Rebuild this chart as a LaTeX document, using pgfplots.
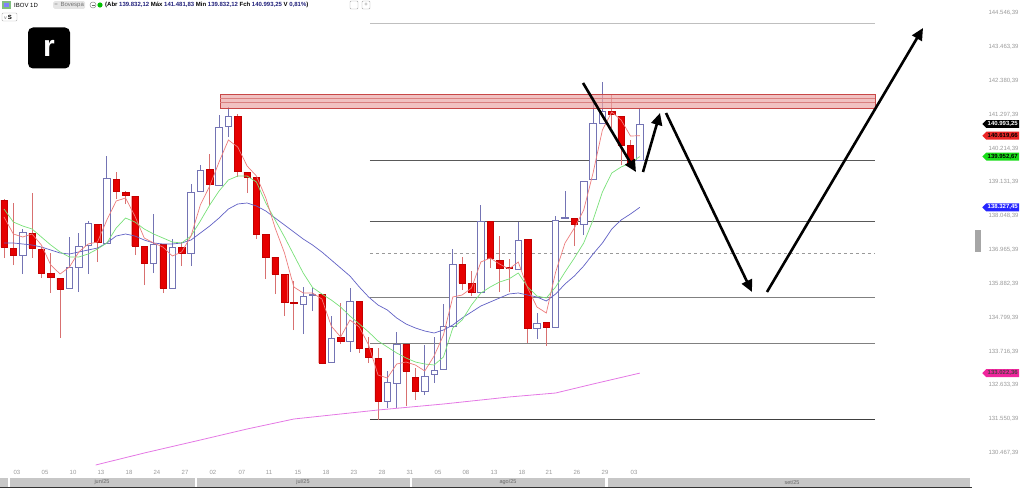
\documentclass[border=0pt]{standalone}
\usepackage{pgfplots}
\usepackage{pgfplotstable}
\pgfplotsset{compat=1.18}
\usepackage{fontspec}
\setmainfont{Liberation Sans}
\usetikzlibrary{arrows.meta,shapes.symbols}

\definecolor{upc}{HTML}{7474B4}
\definecolor{dnc}{HTML}{E60000}
\definecolor{dnw}{HTML}{D87070}
\definecolor{mared}{HTML}{EC7C7C}
\definecolor{magreen}{HTML}{78E078}
\definecolor{mablue}{HTML}{6060C4}
\definecolor{mamag}{HTML}{E478E4}
\definecolor{tickg}{HTML}{9A9A9A}
\definecolor{zonef}{HTML}{EBA6A6}
\definecolor{zoneb}{HTML}{C84848}
\definecolor{navy}{HTML}{20207A}

% up candles: base = open, h = close - open
\pgfplotstableread{
i b h
2 136802 736
7 135746 672
8 136418 672
9 137122 704
11 137186 2080
16 136546 608
18 135746 1312
20 136866 1952
21 138850 672
23 139042 1856
24 140930 320
32 135234 256
33 135522 32
35 133378 768
37 134050 1280
41 132130 608
42 132706 1248
45 132450 480
46 132994 128
47 133154 1376
48 134530 1984
51 135618 2272
55 136354 928
57 134466 160
59 134498 3424
60 137970 20
62 137794 1376
63 139234 1792
64 141026 384
68 139832.12 1161.13
}\upt

% down candles: base = close, h = open - close
\pgfplotstableread{
i b h
0 137058 1504
1 136802 224
3 137026 480
4 136226 768
5 136098 128
6 135714 352
10 137218 576
12 138850 384
13 138722 96
14 137090 1600
15 136546 544
17 135746 1408
19 136866 192
22 139074 480
25 139490 1760
26 139298 160
27 137474 1824
28 136738 736
29 136194 544
30 135298 896
31 135266 32
34 133346 2208
36 134050 128
38 133826 1504
39 133538 288
40 132130 1376
43 133090 864
44 132450 448
49 135906 608
50 135618 288
52 136706 1184
53 136386 256
54 136386 32
56 134466 2848
58 134498 160
61 137794 192
65 141314 96
66 140322 928
67 139778 544
}\dnt

\pgfplotsset{
  chartbase/.style={scale only axis, width=975pt, height=465pt,
    xmin=-0.428, xmax=103.85, ymin=130082, ymax=144962},
  hiddenax/.style={chartbase, hide axis},
}
\newcommand{\tf}{\fontsize{6}{7}\selectfont}

\begin{document}
\begin{tikzpicture}
% ---------- main axis: ticks, levels, wicks ----------
\begin{axis}[chartbase,
  axis line style={draw=none}, major tick length=0pt,
  ytick pos=right, yticklabel pos=right,
  ytick={130467.39,131550.39,132633.39,133716.39,134799.39,135882.39,136965.39,138048.39,139131.39,140214.39,141297.39,142380.39,143463.39,144546.39},
  yticklabels={{130.467,39},{131.550,39},{132.633,39},{133.716,39},{134.799,39},{135.882,39},{136.965,39},{138.048,39},{139.131,39},{140.214,39},{141.297,39},{142.380,39},{143.463,39},{144.546,39}},
  yticklabel style={font=\tf, text=tickg, anchor=west, xshift=10pt},
  xtick={1.39,4.39,7.38,10.37,13.37,16.36,19.36,22.35,25.45,28.34,31.44,34.44,37.43,40.43,43.42,46.42,49.41,52.41,55.40,58.29,61.28,64.28,67.38},
  xticklabels={03,05,10,13,18,24,27,02,07,11,15,18,23,28,31,05,08,13,18,21,26,29,03},
  xticklabel style={font=\tf, text=tickg, yshift=-2pt},
  clip mode=individual]
% levels
\addplot[draw=black!25, line width=0.6pt] coordinates {(39.14,144226)(93.16,144226)};
\addplot[draw=black!65, line width=0.7pt] coordinates {(39.14,139842)(93.16,139842)};
\addplot[draw=black!65, line width=0.7pt] coordinates {(39.14,137874)(93.16,137874)};
\addplot[draw=black!40, line width=0.6pt, dashed] coordinates {(39.14,136866)(93.16,136866)};
\addplot[draw=black!50, line width=0.6pt] coordinates {(39.14,135458)(93.16,135458)};
\addplot[draw=black!50, line width=0.6pt] coordinates {(39.14,133986)(93.16,133986)};
\addplot[draw=black!75, line width=0.7pt] coordinates {(39.14,131554)(93.16,131554)};
% wicks of up candles
\addplot[draw=upc, line width=0.8pt, unbounded coords=jump] coordinates {
(2,136194)(2,137634)(2,nan)
(7,135746)(7,137378)(7,nan)
(8,135618)(8,137506)(8,nan)
(9,136194)(9,137890)(9,nan)
(11,137186)(11,139970)(11,nan)
(16,136226)(16,138114)(16,nan)
(18,135746)(18,137314)(18,nan)
(20,136450)(20,139074)(20,nan)
(21,138850)(21,139682)(21,nan)
(23,139042)(23,141282)(23,nan)
(24,140578)(24,141538)(24,nan)
(32,134274)(32,135778)(32,nan)
(33,135010)(33,135746)(33,nan)
(35,133378)(35,134850)(35,nan)
(37,133698)(37,135746)(37,nan)
(41,131906)(41,133090)(41,nan)
(42,131906)(42,134338)(42,nan)
(45,132322)(45,133922)(45,nan)
(46,132706)(46,134178)(46,nan)
(47,133154)(47,135234)(47,nan)
(48,134530)(48,136994)(48,nan)
(51,135618)(51,138402)(51,nan)
(55,136354)(55,137858)(55,nan)
(57,134114)(57,134946)(57,nan)
(59,134498)(59,138050)(59,nan)
(60,137970)(60,138850)(60,nan)
(62,137442)(62,139170)(62,nan)
(63,139234)(63,141858)(63,nan)
(64,141026)(64,142338)(64,nan)
(68,139832.12)(68,141481.83)
};
% wicks of down candles
\addplot[draw=dnw, line width=0.8pt, unbounded coords=jump] coordinates {
(0,136706)(0,138594)(0,nan)
(1,136482)(1,138466)(1,nan)
(3,136706)(3,138786)(3,nan)
(4,136066)(4,137058)(4,nan)
(5,135586)(5,136866)(5,nan)
(6,134146)(6,136066)(6,nan)
(10,136578)(10,137794)(10,nan)
(12,138594)(12,139458)(12,nan)
(13,138434)(13,138850)(13,nan)
(14,136802)(14,138690)(14,nan)
(15,135842)(15,137090)(15,nan)
(17,135586)(17,137154)(17,nan)
(19,136450)(19,137218)(19,nan)
(22,138402)(22,140034)(22,nan)
(25,139298)(25,141314)(25,nan)
(26,138786)(26,139458)(26,nan)
(27,137314)(27,139298)(27,nan)
(28,136034)(28,137474)(28,nan)
(29,135554)(29,136738)(29,nan)
(30,134850)(30,136194)(30,nan)
(31,134402)(31,135970)(31,nan)
(34,133314)(34,135554)(34,nan)
(36,133954)(36,135266)(36,nan)
(38,133666)(38,135330)(38,nan)
(39,133346)(39,134178)(39,nan)
(40,131522)(40,133826)(40,nan)
(43,131970)(43,133954)(43,nan)
(44,132162)(44,133186)(44,nan)
(49,135682)(49,136738)(49,nan)
(50,135490)(50,136290)(50,nan)
(52,136386)(52,137890)(52,nan)
(53,135618)(53,137410)(53,nan)
(54,135618)(54,136674)(54,nan)
(56,133986)(56,137314)(56,nan)
(58,133890)(58,134658)(58,nan)
(61,137090)(61,137986)(61,nan)
(65,140866)(65,141922)(65,nan)
(66,139682)(66,141250)(66,nan)
(67,139618)(67,140482)
};
\end{axis}

% ---------- up candle bodies ----------
\begin{axis}[hiddenax, ybar stacked, bar width=6.4pt]
\addplot[draw=none, fill=none] table[x=i, y=b] {\upt};
\addplot[draw=upc, fill=white, line width=0.8pt] table[x=i, y=h] {\upt};
\end{axis}

% ---------- down candle bodies ----------
\begin{axis}[hiddenax, ybar stacked, bar width=6.4pt]
\addplot[draw=none, fill=none] table[x=i, y=b] {\dnt};
\addplot[draw=dnc!85!black, fill=dnc, line width=0.4pt] table[x=i, y=h] {\dnt};
\end{axis}

% ---------- overlay: MAs, zone, arrows, tags ----------
\begin{axis}[hiddenax, clip=false]
% resistance zone
\addplot[fill=zonef, fill opacity=0.7, draw=zoneb, line width=0.8pt] coordinates {(23.1,141506)(93.16,141506)(93.16,141954)(23.1,141954)} -- cycle;
\addplot[draw=zoneb!70, line width=0.4pt] coordinates {(23.1,141826)(93.16,141826)};
\addplot[draw=zoneb!70, line width=0.4pt] coordinates {(23.1,141698)(93.16,141698)};
% MA 200 (magenta)
\addplot[draw=mamag, line width=0.8pt] coordinates {(9.8,130082)(15,130466)(21,130882)(26,131234)(31,131554)(36,131714)(40,131842)(47,132034)(54,132258)(59,132386)(63,132674)(68,133022.36)};
% slow MA (blue)
\addplot[draw=mablue, line width=0.7pt] coordinates {
(0,137186)(1,137186)(2,137154)(3,137122)(4,137058)(5,136962)(6,136866)(7,136834)(8,136898)(9,136962)
(10,137026)(11,137186)(12,137410)(13,137474)(14,137410)(15,137282)(16,137186)(17,137154)(18,137154)(19,137186)
(20,137282)(21,137506)(22,137730)(23,137986)(24,138274)(25,138434)(26,138466)(27,138370)(28,138210)(29,137986)
(30,137762)(31,137538)(32,137314)(33,137122)(34,136898)(35,136642)(36,136386)(37,136130)(38,135778)(39,135458)
(40,135202)(41,135042)(42,134786)(43,134594)(44,134466)(45,134370)(46,134306)(47,134402)(48,134562)(49,134786)
(50,134978)(51,135170)(52,135298)(53,135426)(54,135554)(55,135586)(56,135522)(57,135458)(58,135330)(59,135554)
(60,135874)(61,136130)(62,136450)(63,136834)(64,137186)(65,137634)(66,137922)(67,138114)(68,138327.45)};
% medium MA (green)
\addplot[draw=magreen, line width=0.7pt] coordinates {
(0,138274)(1,137858)(2,137730)(3,137634)(4,137378)(5,137122)(6,136898)(7,136738)(8,136738)(9,136834)
(10,136994)(11,137186)(12,137666)(13,137986)(14,137858)(15,137634)(16,137474)(17,137346)(18,137218)(19,137186)
(20,137410)(21,137890)(22,138402)(23,138850)(24,139202)(25,139330)(26,139330)(27,139138)(28,138466)(29,137922)
(30,137378)(31,136802)(32,136226)(33,135762)(34,135554)(35,135362)(36,135138)(37,134850)(38,134594)(39,134338)
(40,134050)(41,133858)(42,133666)(43,133506)(44,133378)(45,133314)(46,133282)(47,133538)(48,134466)(49,134722)
(50,135202)(51,135586)(52,135778)(53,135938)(54,136034)(55,136226)(56,135778)(57,135490)(58,135426)(59,135778)
(60,136258)(61,136706)(62,137186)(63,137922)(64,138818)(65,139426)(66,139618)(67,139746)(68,139952.67)};
% fast MA (red)
\addplot[draw=mared, line width=0.7pt] coordinates {
(0,138018)(1,137474)(2,137378)(3,137474)(4,137122)(5,136482)(6,136194)(7,136418)(8,136898)(9,137154)
(10,137218)(11,137922)(12,138530)(13,138626)(14,138050)(15,137346)(16,137186)(17,137058)(18,136770)(19,136898)
(20,137410)(21,138402)(22,139010)(23,139778)(24,140482)(25,140258)(26,139650)(27,139330)(28,138626)(29,137666)
(30,136866)(31,135778)(32,135586)(33,135586)(34,135394)(35,134530)(36,134178)(37,134722)(38,134498)(39,133922)
(40,132962)(41,132866)(42,133314)(43,133378)(44,133282)(45,133090)(46,133570)(47,134242)(48,135458)(49,135522)
(50,135746)(51,136578)(52,136706)(53,136514)(54,136354)(55,136578)(56,135746)(57,135138)(58,134946)(59,136258)
(60,137186)(61,137666)(62,138242)(63,139426)(64,140802)(65,141378)(66,141122)(67,140610)(68,140619.66)};
% projection arrows
\addplot[black, line width=2.6pt, -{Triangle[length=12pt,width=11pt]}] coordinates {(61.93,142306)(67.59,139458)};
\addplot[black, line width=2.6pt, -{Triangle[length=12pt,width=11pt]}] coordinates {(68.34,139458)(70.16,141346)};
\addplot[black, line width=2.6pt, -{Triangle[length=12pt,width=11pt]}] coordinates {(70.8,141346)(80.0,135618)};
\addplot[black, line width=2.6pt, -{Triangle[length=12pt,width=11pt]}] coordinates {(81.6,135618)(98.29,144066)};
% price tags
\node[signal, signal to=west, fill=black, text=white, font=\tf\bfseries, inner sep=1.4pt, anchor=west] at (axis cs:104.6,140993.25) {140.993,25};
\node[signal, signal to=west, fill=dnc!85, text=black, font=\tf\bfseries, inner sep=1.4pt, anchor=west] at (axis cs:104.6,140619.66) {140.619,66};
\node[signal, signal to=west, fill=green!85!black!90, text=black, font=\tf\bfseries, inner sep=1.4pt, anchor=west] at (axis cs:104.6,139952.67) {139.952,67};
\node[signal, signal to=west, fill=blue!85, text=white, font=\tf\bfseries, inner sep=1.4pt, anchor=west] at (axis cs:104.6,138327.45) {138.327,45};
\node[signal, signal to=west, fill=magenta!85, text=black!80!magenta, font=\tf\bfseries, inner sep=1.4pt, anchor=west] at (axis cs:104.6,133022.36) {133.022,36};
\end{axis}

% ---------- header, logo, month bar ----------
\fill[green!50!black!50] (2pt,456pt) rectangle (11pt,464pt);
\fill[blue!50] (4pt,458pt) rectangle (9pt,462pt);
\node[anchor=west, font=\tf, inner sep=0] at (14pt,460pt) {IBOV 1D};
\node[anchor=west, font=\tf, text=black!55, fill=black!10, rounded corners=1.5pt, inner sep=1.2pt] at (53pt,460pt) {\textcolor{black!40}{=}\, Bovespa};
\draw[black!45, line width=0.5pt] (93pt,460pt) circle (3pt);
\draw[black!60, line width=0.5pt] (91.5pt,460pt) -- (94.5pt,460pt);
\fill[green!75!black] (100pt,460pt) circle (2.6pt);
\node[anchor=west, font=\tf\bfseries, inner sep=0] at (105pt,460pt) {(Abr \textcolor{navy}{139.832,12} Máx \textcolor{navy}{141.481,83} Min \textcolor{navy}{139.832,12} Fch \textcolor{navy}{140.993,25} V \textcolor{navy}{0,81\%})};
\draw[black!35, line width=0.4pt, rounded corners=1pt] (350pt,456pt) rectangle (358pt,464pt);
\draw[black!35, line width=0.4pt, rounded corners=1pt] (362pt,456pt) rectangle (370pt,464pt);
\node[font=\tf, text=black!50] at (366pt,460pt) {+};
\draw[black!30, line width=0.4pt, rounded corners=1pt] (2pt,444pt) rectangle (17pt,452pt);
\node[anchor=west, font=\tf\bfseries, inner sep=0] at (4pt,448pt) {\textcolor{black!40}{\tiny v}\,S};
\node[fill=black, rounded corners=5pt, minimum width=42pt, minimum height=41pt, text=white, font=\fontsize{30}{30}\selectfont\bfseries, inner sep=0] at (49pt,417pt) {r};
\fill[black!35] (975pt,213pt) rectangle (981pt,235pt);
% month bar
\fill[black!22] (0pt,-13pt) rectangle (8pt,-22pt);
\fill[black!22] (10pt,-13pt) rectangle (195pt,-22pt);
\fill[black!22] (197pt,-13pt) rectangle (410pt,-22pt);
\fill[black!22] (412pt,-13pt) rectangle (605pt,-22pt);
\fill[black!22] (608pt,-13pt) rectangle (970pt,-22pt);
\fill[black!80] (0pt,-22pt) rectangle (972pt,-23pt);
\node[font=\fontsize{5.5}{6}\selectfont, text=black!60] at (102pt,-17.5pt) {jun/25};
\node[font=\fontsize{5.5}{6}\selectfont, text=black!60] at (303pt,-17.5pt) {jul/25};
\node[font=\fontsize{5.5}{6}\selectfont, text=black!60] at (508pt,-17.5pt) {ago/25};
\node[font=\fontsize{5.5}{6}\selectfont, text=black!60] at (792pt,-17.5pt) {set/25};
\pgfresetboundingbox
\path[use as bounding box] (0pt,-23pt) rectangle (1024pt,465pt);
\end{tikzpicture}
\end{document}
